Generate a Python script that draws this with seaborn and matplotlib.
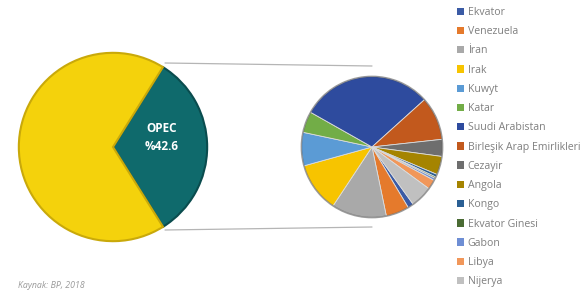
import numpy as np
import pandas as pd
import seaborn as sns
import matplotlib
matplotlib.use("Agg")
import matplotlib.pyplot as plt
from matplotlib.lines import Line2D
from matplotlib.patches import Patch

sns.set_theme(style="white")
plt.rcParams['font.family'] = ['Open Sans', 'DejaVu Sans']

# big pie: share of world output (wedge sizes as drawn)
big_labels = ['OPEC', 'Diğer']
big_values = [32.2, 67.8]
big_colors = ['#0f6a6c', '#f4d20c']
big_edges = ['#0a4c4e', '#c9a90a']

# small pie: OPEC members, production (mb/d)
countries = ['Ekvator', 'Venezuela', 'İran', 'Irak', 'Kuwyt', 'Katar',
             'Suudi Arabistan', 'Birleşik Arap Emirlikleri', 'Cezayir',
             'Angola', 'Kongo', 'Ekvator Ginesi', 'Gabon', 'Libya', 'Nijerya']
production = [0.53, 2.11, 4.98, 4.52, 3.03, 1.92, 11.95, 3.94, 1.54,
              1.67, 0.26, 0.13, 0.21, 0.87, 1.99]
country_colors = ['#3b5ba5', '#e57a2c', '#a9a9a9', '#f7c400', '#5b9bd5',
                  '#72ad47', '#2e4b9e', '#c2591d', '#6e6e6e', '#a58400',
                  '#2a5f94', '#4a6b34', '#6e8ed4', '#f1975a', '#c0c0c0']

df = pd.DataFrame({'country': countries, 'value': production, 'color': country_colors})

W, H = 587, 296
fig = plt.figure(figsize=(W / 100, H / 100), dpi=100)


def px_axes(cx, cy, rx, ry):
    # axes box in pixel coords (origin top-left)
    return fig.add_axes([(cx - rx) / W, 1 - (cy + ry) / H, 2 * rx / W, 2 * ry / H])


# big pie
ax1 = px_axes(113, 147, 97, 97)
w1, _ = ax1.pie(big_values, colors=big_colors, startangle=58, counterclock=False,
                radius=1.0, wedgeprops=dict(linewidth=1.5))
for w, ec in zip(w1, big_edges):
    w.set_edgecolor(ec)
ax1.text(0.52, 0.10, 'OPEC\n%42.6', ha='center', va='center', color='white',
         fontsize=8.5, fontweight='bold', linespacing=1.5)
ax1.set_xlim(-1.03, 1.03)
ax1.set_ylim(-1.03, 1.03)
ax1.axis('off')

# small pie (slightly taller than wide, as in the reference)
ax2 = px_axes(372, 147, 72, 77)
w2, _ = ax2.pie(df['value'], colors=df['color'], startangle=-54.3, counterclock=False,
                radius=1.0, wedgeprops=dict(linewidth=0.6, edgecolor='#dcdcdc'))
ax2.pie([1], colors=['none'], radius=1.0,
        wedgeprops=dict(linewidth=1.2, edgecolor='#555555', alpha=0.5))
ax2.set_xlim(-1.02, 1.02)
ax2.set_ylim(-1.02, 1.02)
ax2.axis('off')

# connector lines
for (x0, y0), (x1, y1) in [((165, 63), (372, 66)), ((165, 230), (372, 227))]:
    fig.add_artist(Line2D([x0 / W, x1 / W], [1 - y0 / H, 1 - y1 / H],
                          transform=fig.transFigure, color='#b5b5b5', lw=0.9))

# legend
handles = [Patch(facecolor=c, edgecolor='none') for c in country_colors]
leg = fig.legend(handles, countries, loc='upper left', bbox_to_anchor=(457 / W, 1 - 7 / H),
                 frameon=False, fontsize=7.6, labelspacing=0.78, handlelength=0.7,
                 handleheight=0.7, handletextpad=0.3, borderpad=0.0, borderaxespad=0.0)
for t in leg.get_texts():
    t.set_color('#7f7f7f')

fig.text(18 / W, 1 - 285 / H, 'Kaynak: BP, 2018', fontsize=6.3, style='italic',
         color='#9a9a9a', va='center')

fig.savefig('out.png', dpi=100)
